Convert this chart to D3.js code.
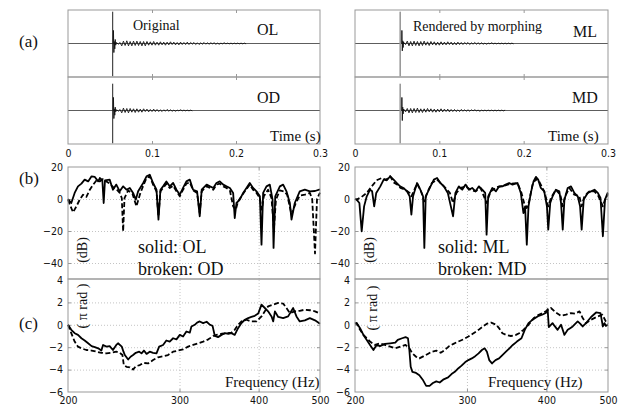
<!DOCTYPE html>
<meta charset="utf-8">
<title>Original vs rendered by morphing</title>
<script src="https://cdn.jsdelivr.net/npm/d3@7"></script>
<style>
  body { margin: 0; background: #fff; }
  svg { display: block; }
  .tick text {
    font-family: "Liberation Sans Narrow", "DejaVu Sans Condensed", "Liberation Sans", Arial, sans-serif;
    font-size: 10.5px;
    fill: #111;
  }
  .lab { font-family: "Liberation Serif", "Times New Roman", serif; fill: #111; }
</style>
<body>
<svg width="619" height="407"></svg>
<script>

  // ticks
  const timeTicks = [0, 0.1, 0.2, 0.3],
        freqTicks = [200, 300, 400, 500],
        dbTicks = [20, 0, -20, -40],
        phaseTicks = [4, 2, 0, -2, -4, -6]

  // (a) impulse responses, normalised amplitude; the tail is sampled every tailStep seconds
  const tailStart = 0.058, tailStep = 0.002

  const spikeOL = [[0.0538,0],[0.0541,0.39],[0.0546,-0.27],[0.0551,0.06],[0.0557,-0.16],[0.0562,0.12],[0.0568,-0.05],[0.0574,0.03],[0.058,0]],
        spikeOD = [[0.0538,0],[0.0541,0.39],[0.0546,-0.24],[0.0551,0.05],[0.0557,-0.14],[0.0562,0.1],[0.0568,-0.04],[0.0574,0.02],[0.058,0]],
        spikeML = [[0.0553,0],[0.0556,0.39],[0.0561,-0.22],[0.0566,0.08],[0.0571,-0.12],[0.0576,0.05],[0.058,0]],
        spikeMD = [[0.0553,0],[0.0556,0.39],[0.0561,-0.3],[0.0566,0.1],[0.0571,-0.1],[0.0576,0.04],[0.058,0]]

  const tailOL = [0.02,-0.02,0.03,-0.07,0.07,-0.06,0.08,-0.07,0.06,-0.07,
                  0.07,-0.06,0.07,-0.06,0.06,-0.07,0.06,-0.07,0.06,-0.05,
                  0.05,-0.05,0.06,-0.05,0.04,-0.05,0.05,-0.04,0.04,-0.05,
                  0.04,-0.04,0.05,-0.03,0.04,-0.04,0.03,-0.04,0.04,-0.03,
                  0.03,-0.03,0.04,-0.03,0.03,-0.02,0.03,-0.03,0.02,-0.03,
                  0.02,-0.02,0.03,-0.02,0.02,-0.02,0.02,-0.01,0.02,-0.02,
                  0.01,-0.02,0.01,-0.01,0.02,-0.01,0.01,-0.01,0.01,-0.01,
                  0.01,-0.01,0.01,-0.01,0.01,-0.01,0.01,-0.01],
        tailOD = [0.02,-0.02,0.03,-0.07,0.07,-0.06,0.06,-0.07,0.06,-0.05,
                  0.05,-0.06,0.05,-0.05,0.04,-0.05,0.05,-0.03,0.04,-0.04,
                  0.03,-0.03,0.04,-0.03,0.03,-0.03,0.02,-0.03,0.02,-0.02,
                  0.03,-0.02,0.02,-0.02,0.01,-0.02,0.01,-0.01,0.02,-0.01,
                  0.01,-0.01,0.01,-0.01,0.01,-0.01],
        tailML = [0.02,-0.03,0.07,-0.07,0.06,-0.07,0.07,-0.06,0.06,-0.07,
                  0.06,-0.06,0.07,-0.05,0.05,-0.06,0.06,-0.04,0.05,-0.05,
                  0.04,-0.05,0.05,-0.04,0.04,-0.04,0.05,-0.03,0.04,-0.04,
                  0.03,-0.04,0.04,-0.03,0.03,-0.03,0.03,-0.02,0.03,-0.03,
                  0.02,-0.02,0.03,-0.02,0.02,-0.02,0.02,-0.02,0.01,-0.02,
                  0.01,-0.01,0.02,-0.01,0.01,-0.01,0.01,-0.01,0.01,-0.01,
                  0.01,-0.01,0.01,-0.01,0.01,-0.01],
        tailMD = [0.03,-0.04,0.06,-0.07,0.06,-0.07,0.06,-0.06,0.07,-0.06,
                  0.05,-0.06,0.05,-0.05,0.06,-0.04,0.05,-0.05,0.04,-0.05,
                  0.04,-0.04,0.05,-0.04,0.04,-0.03,0.04,-0.04,0.03,-0.03,
                  0.03,-0.03,0.02,-0.03,0.03,-0.02,0.02,-0.02,0.02,-0.02,
                  0.02,-0.01,0.02,-0.01,0.01,-0.02,0.01,-0.01,0.01,-0.01,
                  0.01,-0.01,0.01,-0.01,0.01,-0.01,0.01,-0.01,0.01,-0.01,0.01]

  // (b) magnitude, [Hz, dB]
  const magOL = [[200,0],[202.4,-2.5],[204.9,3.8],[207.4,7.9],[210,9.6],[212.5,12.1],[215.2,11],[217.9,14.2],[220.5,13.8],[223.2,11],[224.5,13.1],[226.6,11.7],[227.7,-2.5],[228.8,11.7],[232.7,12.1],[235.5,5.8],[238.4,9],[241.4,4.8],[244.4,7.9],[247.4,5.8],[250.4,6.9],[253.4,3.8],[255.9,-0.4],[258.1,4.8],[262.9,10],[266.1,14.2],[269.2,15.2],[272.5,10],[275.9,5.8],[277.9,-12.9],[279.9,5.8],[282.6,7.9],[286,11],[289.5,7.9],[293.1,10],[296.7,5.8],[300.3,2.7],[303.9,6.9],[307.6,11],[311.4,12.1],[315.2,5.8],[319.8,4.8],[322.9,-10.8],[325.2,5.8],[331.1,9],[335.2,7.9],[339.2,6.9],[343.1,10],[347.3,11],[351.7,9],[355.9,7.9],[360.3,6.9],[364.6,3.8],[366.7,-11.9],[369,-2.5],[373.5,-0.4],[378.1,3.8],[382.7,6.9],[387.3,10],[392,6.9],[396.9,4.8],[401.8,1.7],[404.2,-28.5],[406.6,3.8],[411.6,7.9],[416.6,9],[420.8,-0.4],[422.3,-30.6],[424.9,1.7],[432.1,7.9],[437.3,9],[442.6,4.8],[448.1,-2.5],[450.8,-12.9],[456.2,-2.5],[464.5,4.8],[473.2,5.8],[481.9,4.8],[491,5],[500,6]],
        magOD = [[200,-0.4],[201.9,-4.6],[203.7,-8.3],[206.2,-4.6],[208.7,-0.4],[211.2,2.7],[213.8,1.3],[216.5,5.8],[219.2,9],[221.9,11.7],[224.5,11],[227.2,12.5],[230,11],[232.7,9.6],[235.5,7.5],[238.4,6.2],[241.4,3.8],[243.2,0.6],[244.4,-20.2],[245.6,0.6],[248.9,5.4],[252.8,3.3],[256.5,-4.6],[259.7,2.7],[262.9,8.3],[266.1,13.1],[269.2,14.2],[272.5,9],[275.9,4.8],[277.9,-10.8],[279.9,4.8],[282.6,6.9],[286,9.6],[289.5,6.9],[293.1,8.3],[296.7,4.8],[300.3,1.7],[303.9,5.8],[307.6,9.6],[311.4,10.4],[315.2,5.4],[319.8,3.8],[322.9,-8.8],[325.2,4.8],[331.1,7.9],[335.2,6.9],[339.2,5.8],[343.1,9],[347.3,9.6],[351.7,7.9],[355.9,6.9],[360.3,5.4],[364.6,-4.6],[368.1,-6.7],[371.2,-1.5],[375.8,1.7],[380.4,4.8],[387.3,9],[392,5.8],[396.9,3.8],[401.8,0.6],[404.7,-6.7],[407.6,1.7],[414,5.8],[419.2,0.6],[422.8,-19.2],[426,-0.4],[432.1,5.4],[438.3,4.8],[443.7,2.7],[450.8,-9.8],[457.9,-2.5],[464.5,2.1],[473.2,2.7],[481.9,3.8],[486,0],[491,-34],[494.6,0],[500,4]],
        magML = [[200,0],[201.2,-0.4],[203.2,-2.5],[204.9,-20.2],[206.7,-4.6],[208.7,1.7],[211.2,5.8],[212.8,4.8],[214.4,-4.6],[216,3.8],[219.2,7.9],[221.9,12.1],[224.5,11.7],[227.2,14.2],[230,12.1],[232.7,10],[235.5,7.9],[238.4,6.9],[241.4,4.8],[243.8,1.7],[245.3,-9.8],[246.8,1.7],[250.4,10],[253.4,5.8],[255.9,1.7],[257.1,-30.6],[258.4,1.7],[262.9,7.9],[266.1,12.1],[269.2,13.1],[272.5,10],[275.9,7.9],[279.9,3.8],[285.3,-10.8],[287.7,3.8],[291.3,7.9],[294.9,5.8],[298.5,9],[302.1,5.8],[305.7,6.9],[309.5,4.8],[313.3,7.9],[317.1,5.8],[320.5,3.8],[322.1,-22.3],[324,1.7],[328.9,6.9],[333.2,4.8],[337.2,7.9],[341.1,7.9],[345.1,9],[349.5,10],[353.8,9],[360.3,10],[364.6,3.8],[368.1,-8.8],[370.3,-4.6],[372.6,-28.5],[374.9,-4.6],[378.1,3.8],[381.8,11],[385.1,13.8],[388.3,12.1],[392,6.9],[396.9,4.8],[400.8,-4.6],[402.7,-19.2],[405.6,-2.5],[409.1,1.7],[414,5.8],[419.2,4.8],[421.8,-2.5],[424.4,-19.2],[427,-0.4],[432.1,6.9],[437.3,7.9],[442.6,3.8],[448.1,1.7],[451.9,-4.6],[454.5,-19.2],[457.9,-0.4],[464.5,3.8],[470.3,4.8],[476.1,5.8],[481.9,3.8],[486.6,0.6],[490.8,-23.3],[494.6,-0.4],[499.4,3.8],[500,4]],
        magMD = [[200,0],[201.2,-0.4],[204.9,1.3],[208.7,3.8],[212.5,7.9],[216.3,11.7],[220.2,13.1],[223.9,12.1],[227.2,14.2],[230,10.4],[233.2,9],[235.8,6.9],[239.9,5.8],[243.8,3.8],[245.3,1.7],[247.4,4.8],[250.4,9.6],[254,4.8],[257.1,-1.5],[259.7,3.8],[264.2,10],[269.2,12.1],[273.2,9.6],[277.5,6.9],[282,3.8],[285.3,-2.5],[288.8,3.8],[293.1,6.9],[298.5,7.9],[303.9,5.8],[309.5,4.8],[315.2,6.9],[322.1,-2.5],[326.9,4.8],[335.2,7.5],[343.1,8.3],[351.7,9.6],[360.3,10],[365.5,3.8],[369,-2.5],[372.6,-5.6],[375.8,-1.5],[380.4,9],[385.1,12.5],[389.6,11],[396.9,4.8],[402.7,-4.6],[406.6,0.6],[414,5.8],[420.7,2.7],[424.4,-4.6],[428,1.7],[434.7,6.9],[442.6,2.7],[450.8,1.7],[454.5,-4.6],[459,1.7],[467.3,4.8],[476.1,4.8],[483.1,1.7],[490.8,-4.6],[494.6,-0.4],[499.4,2.7],[500,3]]

  // (c) phase, [Hz, pi rad]
  const phOL = [[200,0],[202.4,-0.45],[204.9,-0.75],[207.4,-0.9],[210,-1.2],[212.5,-1.4],[215.2,-1.65],[217.9,-1.9],[220.5,-2],[223.2,-2.1],[225.8,-2.3],[227.2,-1.8],[230,-1.95],[232.7,-1.9],[235.5,-2.25],[238.4,-1.8],[239.9,-1.65],[243.2,-1.95],[244.7,-2.4],[245.9,-2.7],[248.9,-3.1],[251.1,-2.85],[253.4,-2.7],[255.9,-2.5],[259.1,-2.4],[261.3,-2.55],[263.6,-2.3],[266.1,-2.6],[269.2,-2.4],[272.5,-2.5],[275.9,-2.55],[278.6,-1.95],[282.6,-1.8],[286,-1.4],[289.5,-1.5],[293.1,-1.2],[296.7,-1.3],[300.3,-0.9],[303.9,-1.05],[307.6,-0.6],[311.4,-0.7],[313.3,-0.15],[317.1,0],[319.8,0.2],[322.9,0.3],[326.9,0.15],[331.1,0.27],[335.2,0],[338.3,-0.1],[341.1,-1],[345.1,-1.1],[349.5,-0.9],[353.8,-0.75],[358.2,-0.8],[362.4,-0.75],[366.7,-0.9],[371.2,-0.3],[375.8,0.15],[380.4,0.45],[385.1,0.6],[389.6,0.7],[394.4,0.8],[399.4,1],[404.2,1.8],[409.1,1.5],[414,1.2],[419.2,0.75],[421.8,0.3],[424.4,1.2],[429.5,0.7],[437.3,0.6],[445.3,0.75],[453.5,1.5],[459,0.75],[464.5,0.3],[473.2,0.4],[481.9,0.6],[491,0.4],[500,0.1]],
        phOD = [[200,0],[202.4,-0.75],[204.9,-1.5],[207.4,-1.95],[210,-2.1],[213.8,-2.25],[217.9,-2.3],[221.9,-2.4],[225.8,-2.5],[230,-2.55],[234.1,-2.5],[238.4,-2.4],[241.4,-2.5],[243.8,-2.7],[245,-3.6],[247.4,-3.75],[250.4,-3.8],[253.4,-4],[255.9,-3.7],[259.7,-3.6],[262.9,-3.4],[267.7,-3.45],[272.5,-3.15],[277.5,-2.9],[282.6,-2.8],[287.7,-2.7],[293.1,-2.4],[298.5,-2.3],[303.9,-2.2],[309.5,-1.95],[315.2,-1.8],[321,-1.65],[326.9,-1.5],[333.2,-1.3],[339.2,-1],[343.1,-0.9],[349.5,-0.8],[355.9,-0.75],[362.4,-0.7],[366.7,-0.45],[371.2,0],[375.8,0.3],[382.7,0.45],[389.6,0.3],[396.9,0.3],[404.2,0.75],[409.1,1.2],[414,1.65],[421.8,1.8],[429.5,1.95],[437.3,1.9],[442.6,1.5],[448.1,1.05],[456.2,1.2],[464.5,1.25],[473.2,1.35],[481.9,1.3],[491,1.2],[500,1]],
        phML = [[200,0.1],[201.2,0.15],[203.7,-0.3],[206.2,-0.9],[208.7,-1.35],[211.2,-1.8],[213.8,-2.25],[216.3,-1.8],[218.9,-1.9],[222.9,-1.7],[227.2,-1.65],[231.4,-1.6],[233.5,-1.35],[237.2,-1.2],[240.2,-1.1],[242.3,-1.2],[243.5,-2.25],[244.7,-3.75],[246.2,-4.2],[249.5,-4.3],[252.5,-4.5],[255.6,-4.9],[258.8,-5.45],[262,-5.45],[265.2,-5.2],[268.5,-5.05],[271.8,-5.15],[275.2,-4.9],[280.2,-4.7],[283.7,-4.4],[287.1,-4.2],[290.6,-3.9],[294.2,-3.65],[297.9,-3.35],[301.5,-3.15],[305.3,-3],[309.1,-2.8],[312.9,-2.55],[316.7,-2.25],[319.8,-2.1],[322.5,-2.4],[325.2,-3.15],[328.5,-3.45],[332.7,-3.15],[337,-3],[341.1,-2.7],[345.5,-2.4],[349.9,-2.1],[354.2,-1.8],[359.5,-1.5],[365.5,-1.2],[369.9,-0.45],[374.9,0.15],[379.4,0.4],[384.2,0.6],[389.1,0.8],[393.9,0.9],[399,1.05],[401.8,1.4],[403.5,-0.2],[409,0.15],[412,-0.1],[416.6,-0.45],[421.8,0],[427,-0.9],[432.1,-0.45],[436,-0.3],[440,-0.15],[448,0.3],[452,0.1],[456.2,-0.15],[461.8,0.15],[470.3,0.7],[478.9,1.1],[486.6,1.05],[490.8,-0.15],[493.7,0.15],[496,-0.1],[500,0]],
        phMD = [[200,0.1],[201.2,0.15],[203.7,-0.45],[206.2,-0.9],[208.7,-1.2],[211.2,-1.5],[215,-1.8],[218.9,-1.65],[222.9,-1.8],[227.2,-1.95],[231.4,-2.1],[235.8,-1.95],[240.2,-1.8],[243.5,-2.1],[246.2,-2.55],[249.5,-2.85],[252.5,-3],[256.5,-2.8],[260.3,-2.6],[264.2,-2.4],[268.5,-2.3],[272.8,-2.5],[276.9,-2.25],[281.3,-1.9],[285.7,-1.7],[290.6,-1.5],[296.1,-1.3],[301.5,-1.05],[307.2,-0.75],[312.9,-0.45],[317.8,-0.15],[322.5,0.1],[327.5,0.2],[333.6,0],[337,-0.3],[341.1,-0.75],[345.5,-0.9],[351.7,-1],[358.2,-0.9],[362.4,-0.75],[368.1,-0.45],[374.9,0],[382.2,0.6],[389.1,0.9],[396.4,1.1],[401.6,1.3],[406.6,1.5],[414,1.1],[421.8,0.8],[429.5,0.9],[437.3,1.05],[444,1],[451,1.2],[456.2,0.6],[461.8,0.15],[470,0.45],[481.9,0.75],[490,0.9],[496,0.3],[500,0.1]]

  const W = 619, H = 407
  const svg = d3.select('svg')
  svg.append('rect').attr('width', W).attr('height', H).attr('fill', '#fff')

  const wave = (spike, tail) =>
    spike.concat(tail.map((v, i) => [tailStart + i * tailStep, v]))

  const sides = [
    { x0: 68, x1: 320, onset: 0.0532, onsetColor: '#222', onsetWidth: 1,
      waves: [wave(spikeOL, tailOL), wave(spikeOD, tailOD)],
      mag: [magOL, magOD], phase: [phOL, phOD] },
    { x0: 355, x1: 608, onset: 0.0536, onsetColor: '#9a9a9a', onsetWidth: 1.6,
      waves: [wave(spikeML, tailML), wave(spikeMD, tailMD)],
      mag: [magML, magMD], phase: [phML, phMD] }
  ]

  const rowA = [[10, 77], [77, 144]],
        rowB = [167, 279],
        rowC = [279, 392]

  const borderColor = '#999',
        gridColor = '#b5b5b5'

  // small inward tick marks (matlab style)
  const inward = (axisFn, scale, values, tx, ty) =>
    svg.append('g')
      .attr('transform', `translate(${tx},${ty})`)
      .call(axisFn(scale).tickValues(values).tickSize(-3).tickFormat(''))
      .call(g => g.select('.domain').remove())
      .call(g => g.selectAll('line').attr('stroke', borderColor))

  const grid = (axisFn, scale, values, size, tx, ty) =>
    svg.append('g')
      .attr('transform', `translate(${tx},${ty})`)
      .call(axisFn(scale).tickValues(values).tickSize(-size).tickFormat(''))
      .call(g => g.select('.domain').remove())
      .call(g => g.selectAll('line')
        .attr('stroke', gridColor).attr('stroke-width', 0.8).attr('stroke-dasharray', '1,2'))

  const box = (x0, x1, y0, y1) =>
    svg.append('rect')
      .attr('x', x0).attr('y', y0).attr('width', x1 - x0).attr('height', y1 - y0)
      .attr('fill', 'none').attr('stroke', borderColor).attr('stroke-width', 1)

  const plotLine = (data, x, y, dashed) =>
    svg.append('path')
      .datum(data)
      .attr('fill', 'none')
      .attr('stroke', '#000')
      .attr('stroke-width', 1.8)
      .attr('stroke-linejoin', 'round')
      .attr('stroke-dasharray', dashed ? '5,2.5' : null)
      .attr('d', d3.line().x(d => x(d[0])).y(d => y(d[1])))

  sides.forEach(s => {
    const { x0, x1 } = s

    // (a) waveforms
    const xT = d3.scaleLinear().domain([0, 0.3]).range([x0, x1])
    rowA.forEach(([top, bottom], k) => {
      const yW = d3.scaleLinear().domain([-1, 1]).range([bottom, top])
      inward(d3.axisTop, xT, [0.1, 0.2], 0, top)
      inward(d3.axisBottom, xT, [0.1, 0.2], 0, bottom)
      svg.append('line')
        .attr('x1', x0).attr('x2', x1).attr('y1', yW(0)).attr('y2', yW(0))
        .attr('stroke', '#333').attr('stroke-width', 0.8)
      svg.append('line')
        .attr('x1', xT(s.onset)).attr('x2', xT(s.onset))
        .attr('y1', yW(k ? 0.8 : 0.95)).attr('y2', yW(-0.98))
        .attr('stroke', s.onsetColor).attr('stroke-width', s.onsetWidth)
      svg.append('path')
        .datum(s.waves[k])
        .attr('fill', 'none').attr('stroke', '#111').attr('stroke-width', 0.9)
        .attr('d', d3.line().x(d => xT(d[0])).y(d => yW(d[1])))
      box(x0, x1, top, bottom)
    })
    svg.append('g')
      .attr('transform', `translate(0,${rowA[1][1]})`)
      .call(d3.axisBottom(xT).tickValues(timeTicks).tickSize(0).tickPadding(6)
        .tickFormat(d => d === 0 ? '0' : d.toFixed(1)))
      .call(g => g.select('.domain').remove())

    // (b) magnitude
    const xF = d3.scaleLog().domain([200, 500]).range([x0, x1])
    const yD = d3.scaleLinear().domain([-50, 20]).range(rowB.slice().reverse())
    grid(d3.axisBottom, xF, [300, 400], rowB[1] - rowB[0], 0, rowB[1])
    grid(d3.axisLeft, yD, [-40, -20, 0], x1 - x0, x0, 0)
    inward(d3.axisTop, xF, [300, 400], 0, rowB[0])
    inward(d3.axisLeft, yD, [-40, -20, 0], x0, 0)
    inward(d3.axisRight, yD, [-40, -20, 0], x1, 0)
    svg.append('g')
      .attr('transform', `translate(${x0},0)`)
      .call(d3.axisLeft(yD).tickValues(dbTicks).tickSize(0).tickPadding(5))
      .call(g => g.select('.domain').remove())
    plotLine(s.mag[1], xF, yD, true)
    plotLine(s.mag[0], xF, yD, false)
    box(x0, x1, rowB[0], rowB[1])

    // (c) phase
    const yP = d3.scaleLinear().domain([-6, 4]).range([rowC[1], rowC[0] + 1])
    grid(d3.axisBottom, xF, [300, 400], rowC[1] - rowC[0], 0, rowC[1])
    grid(d3.axisLeft, yP, [-4, -2, 0, 2], x1 - x0, x0, 0)
    inward(d3.axisBottom, xF, [300, 400], 0, rowC[1])
    inward(d3.axisLeft, yP, [-4, -2, 0, 2], x0, 0)
    inward(d3.axisRight, yP, [-4, -2, 0, 2], x1, 0)
    svg.append('g')
      .attr('transform', `translate(${x0},0)`)
      .call(d3.axisLeft(yP).tickValues(phaseTicks).tickSize(0).tickPadding(5))
      .call(g => g.select('.domain').remove())
    svg.append('g')
      .attr('transform', `translate(0,${rowC[1]})`)
      .call(d3.axisBottom(xF).tickValues(freqTicks).tickSize(0).tickPadding(5).tickFormat(d3.format('d')))
      .call(g => g.select('.domain').remove())
    plotLine(s.phase[1], xF, yP, true)
    plotLine(s.phase[0], xF, yP, false)
    box(x0, x1, rowC[0], rowC[1])
  })

  // labels
  const label = (txt, x, y, size, rotate) => {
    const t = svg.append('text').attr('class', 'lab')
      .attr('font-size', size).text(txt)
    if (rotate) {
      t.attr('text-anchor', 'middle').attr('dominant-baseline', 'central')
        .attr('transform', `translate(${x},${y}) rotate(-90)`)
    } else {
      t.attr('x', x).attr('y', y)
    }
  }

  label('(a)', 19, 47, 17)
  label('(b)', 19, 184, 17)
  label('(c)', 19, 329, 17)

  label('Original', 133, 30, 14)
  label('OL', 257, 35, 16)
  label('OD', 257, 103, 16)
  label('Time (s)', 270, 141, 15)
  label('solid: OL', 138, 253, 18)
  label('broken: OD', 138, 275, 18)
  label('(dB)', 82, 250, 14, true)
  label('( \u03c0 rad )', 82, 306, 14, true)
  label('Frequency (Hz)', 225, 387, 15)

  label('Rendered by morphing', 413, 31, 14)
  label('ML', 573, 37, 16)
  label('MD', 572, 103, 16)
  label('Time (s)', 548, 141, 15)
  label('solid: ML', 438, 253, 18)
  label('broken: MD', 438, 275, 18)
  label('(dB)', 369, 250, 14, true)
  label('( \u03c0 rad )', 372, 308, 14, true)
  label('Frequency (Hz)', 488, 387, 15)

</script>
</body>
